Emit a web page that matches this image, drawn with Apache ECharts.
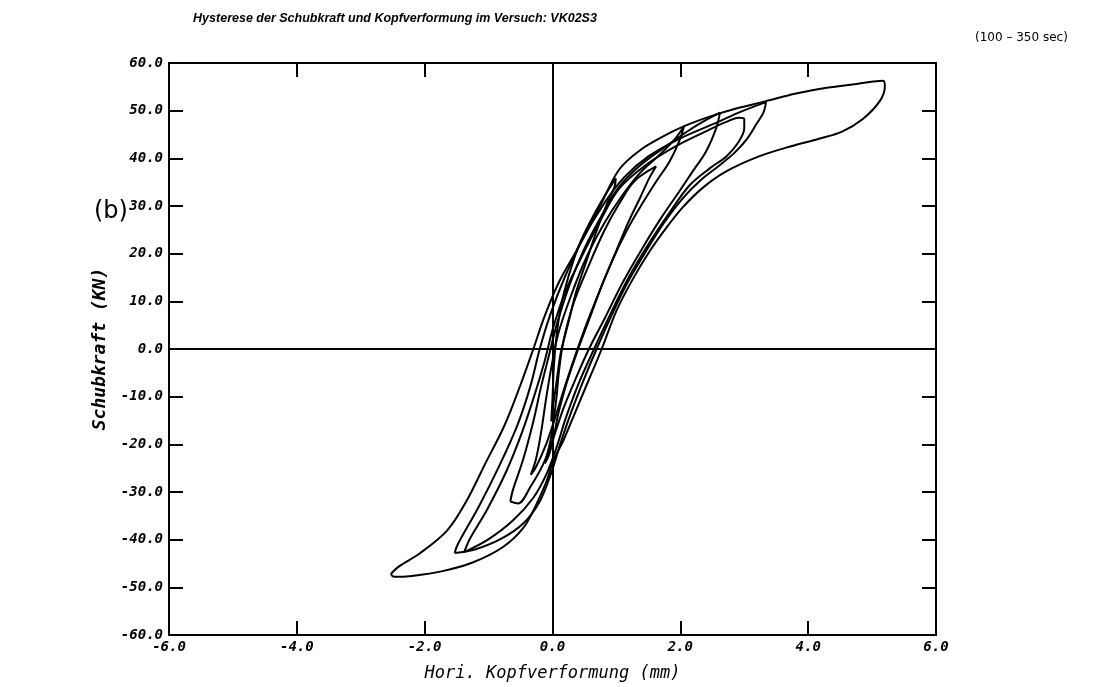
<!DOCTYPE html>
<html>
<head>
<meta charset="utf-8">
<script src="https://cdn.jsdelivr.net/npm/echarts@6/dist/echarts.min.js"></script>
<style>html,body{margin:0;padding:0;background:#fff;}#c{width:1095px;height:687px;}</style>
</head>
<body>
<div id="c"></div>
<script>
// Tick labels
const xTicks = [-6, -4, -2, 0, 2, 4, 6];
const yTicks = [-60, -50, -40, -30, -20, -10, 0, 10, 20, 30, 40, 50, 60];

// Hysteresis cycles [displacement mm, force kN]
const loopA = [[-2.53,-47.2],[-2.4,-45.6],[-2.08,-42.9],[-1.65,-38.1],[-1.35,-32],[-1.05,-24],[-0.75,-16],[-0.5,-7.5],[-0.3,0],[-0.12,7],[0.1,14],[0.37,20.5],[0.73,29.6],[1.04,37.6],[1.36,41.6],[1.76,44.8],[2.07,46.8],[2.47,48.8],[2.86,50.4],[3.34,52.0],[3.81,53.6],[4.29,54.8],[4.76,55.6],[5.17,56.3],[5.2,55.2],[5.12,52],[4.85,48.2],[4.53,45.6],[4.17,44.1],[3.75,42.6],[3.23,40.4],[2.71,37.2],[2.34,33.7],[2.03,29.6],[1.78,25.4],[1.52,20.5],[1.25,14.5],[1.0,8],[0.77,0],[0.57,-6.4],[0.37,-12.8],[0.17,-19.2],[0.02,-23.2],[-0.1,-28],[-0.26,-32.8],[-0.46,-37.6],[-0.78,-41.6],[-1.25,-44.8],[-1.72,-46.6],[-2.2,-47.6],[-2.48,-47.8],[-2.53,-47.2]];
const loopB = [[-1.53,-42.8],[-1.5,-41.5],[-1.41,-39.2],[-1.15,-33],[-0.85,-25],[-0.55,-16],[-0.35,-8],[-0.2,0],[-0.04,7],[0.19,15],[0.47,23],[0.8,30.4],[1.12,36],[1.5,40.4],[2.0,44.2],[2.55,47.4],[2.95,49.8],[3.34,51.8],[3.3,49.6],[3.2,47.4],[3.05,44.2],[2.85,41.2],[2.6,38.4],[2.3,35.2],[2.03,31.5],[1.74,26.4],[1.44,20],[1.16,13.6],[0.93,7.2],[0.69,0],[0.49,-6.4],[0.3,-13],[0.12,-20],[-0.02,-26],[-0.2,-32],[-0.45,-36.5],[-0.8,-39.8],[-1.2,-42],[-1.53,-42.8]];
const loopC = [[-1.38,-42.6],[-1.3,-40],[-1.02,-33.6],[-0.72,-25.6],[-0.48,-17.6],[-0.28,-9.6],[-0.12,-2.4],[0.0,4],[0.2,12],[0.48,20],[0.76,27.2],[1.04,33.6],[1.44,38.4],[1.91,42.4],[2.39,45.6],[2.71,47.6],[2.92,48.5],[3.0,48.2],[3.0,46.3],[2.9,43.2],[2.72,40.4],[2.47,38],[2.15,34.4],[1.84,28.8],[1.52,22.4],[1.2,15.2],[0.93,8],[0.65,0],[0.41,-7.2],[0.21,-14.4],[0.06,-20.8],[-0.1,-26.4],[-0.3,-31.2],[-0.62,-36],[-1.01,-40],[-1.38,-42.6]];
const loopD = [[-0.66,-32],[-0.62,-29.6],[-0.46,-23.2],[-0.3,-15.2],[-0.18,-8],[-0.06,-1.6],[0.06,4.8],[0.25,12.8],[0.49,20.8],[0.77,28],[1.04,34],[1.36,38.4],[1.76,42.4],[2.15,46],[2.45,48.4],[2.62,49.6],[2.56,46.3],[2.4,41.4],[2.19,37.2],[1.98,33],[1.7,27.5],[1.4,21],[1.1,14],[0.82,6.5],[0.57,0],[0.37,-6],[0.17,-12.5],[0.02,-18.4],[-0.14,-24],[-0.34,-28.8],[-0.54,-32.4],[-0.66,-32]];
const loopE = [[-0.34,-26.4],[-0.26,-23.2],[-0.18,-17.6],[-0.1,-10.4],[-0.02,-4],[0.09,3.2],[0.29,11.2],[0.53,19.2],[0.81,26.4],[1.08,32],[1.36,36.8],[1.68,40.8],[1.9,43.8],[2.06,46.8],[1.98,43.5],[1.83,39.3],[1.62,35.1],[1.4,30.4],[1.16,24.8],[0.93,18.4],[0.72,11.6],[0.52,4.8],[0.35,-1.6],[0.2,-7.6],[0.06,-13.6],[-0.1,-20],[-0.26,-24.8],[-0.34,-26.4]];
const loopF = [[-0.12,-24],[-0.02,-18.4],[0.06,-10.4],[0.1,-4.8],[0.17,1.6],[0.33,9.6],[0.57,17.6],[0.81,24.8],[1.04,30.4],[1.28,35.2],[1.62,38.3],[1.52,36],[1.38,32],[1.18,26.4],[0.98,20],[0.78,13.6],[0.58,6.4],[0.38,-0.8],[0.22,-7.2],[0.09,-13.6],[0.02,-18.4],[-0.06,-22.4],[-0.12,-24]];
const loopG = [[-0.02,-15.2],[0,-10.4],[0.02,-4],[0.06,2.4],[0.13,8.8],[0.25,15.2],[0.41,21.6],[0.61,27.2],[0.81,32],[0.99,35.8],[0.97,34],[0.85,30.4],[0.69,24.8],[0.53,18.4],[0.37,12],[0.25,5.6],[0.13,-0.8],[0.06,-7.2],[0,-12.8],[-0.02,-15.2]];

const loops = [loopA, loopB, loopC, loopD, loopE, loopF, loopG];

const FONT = '"DejaVu Sans Mono", monospace';
const chart = echarts.init(document.getElementById('c'));

const tickStyle = { inside: true, length: 14, lineStyle: { color: '#000', width: 2 } };
const lineStyleAxis = { show: true, onZero: false, lineStyle: { color: '#000', width: 2 } };

function mkX(pos, labels) {
  return {
    type: 'value', position: pos, min: xTicks[0], max: xTicks[xTicks.length - 1], interval: 2,
    axisLine: lineStyleAxis, axisTick: tickStyle, splitLine: { show: false },
    axisLabel: { show: labels, margin: 5, color: '#000', fontFamily: FONT, fontStyle: 'italic', fontWeight: 'bold', fontSize: 14,
      formatter: v => v.toFixed(1) },
    name: labels ? 'Hori. Kopfverformung (mm)' : '', nameLocation: 'middle', nameGap: 30,
    nameTextStyle: { color: '#000', fontFamily: FONT, fontStyle: 'italic', fontSize: 17 }
  };
}
function mkY(pos, labels) {
  return {
    type: 'value', position: pos, min: yTicks[0], max: yTicks[yTicks.length - 1], interval: 10,
    axisLine: lineStyleAxis, axisTick: tickStyle, splitLine: { show: false },
    axisLabel: { show: labels, margin: 6, color: '#000', fontFamily: FONT, fontStyle: 'italic', fontWeight: 'bold', fontSize: 14,
      formatter: v => v.toFixed(1) },
    name: labels ? 'Schubkraft (KN)' : '', nameLocation: 'middle', nameGap: 60,
    nameTextStyle: { color: '#000', fontFamily: FONT, fontStyle: 'italic', fontWeight: 'bold', fontSize: 18 }
  };
}

const series = loops.map((d, i) => ({
  type: 'line', data: d, xAxisIndex: 0, yAxisIndex: 0, smooth: 0.35,
  showSymbol: false, symbol: 'none', silent: true, animation: false,
  lineStyle: { color: '#000', width: 2 },
  markLine: i === 0 ? {
    silent: true, symbol: 'none', label: { show: false },
    lineStyle: { color: '#000', width: 2, type: 'solid' },
    data: [{ xAxis: 0 }, { yAxis: 0 }]
  } : undefined
}));

chart.setOption({
  animation: false,
  backgroundColor: '#fff',
  title: {
    text: 'Hysterese der Schubkraft und Kopfverformung im Versuch: VK02S3',
    left: 390, top: 7, textAlign: 'center',
    textStyle: { color: '#000', fontFamily: '"Liberation Sans", sans-serif', fontStyle: 'italic', fontWeight: 'bold', fontSize: 12.5 }
  },
  grid: { left: 169, right: 159, top: 63, bottom: 50 },
  xAxis: [mkX('bottom', true), mkX('top', false)],
  yAxis: [mkY('left', true), mkY('right', false)],
  graphic: [
    { type: 'text', left: 94, top: 200, style: { text: '(b)', font: '24px "DejaVu Sans"', fill: '#000' } },
    { type: 'text', left: 975, top: 32, style: { text: '(100 – 350 sec)', font: '12px "DejaVu Sans"', fill: '#000' } }
  ],
  series: series
});
</script>
</body>
</html>
